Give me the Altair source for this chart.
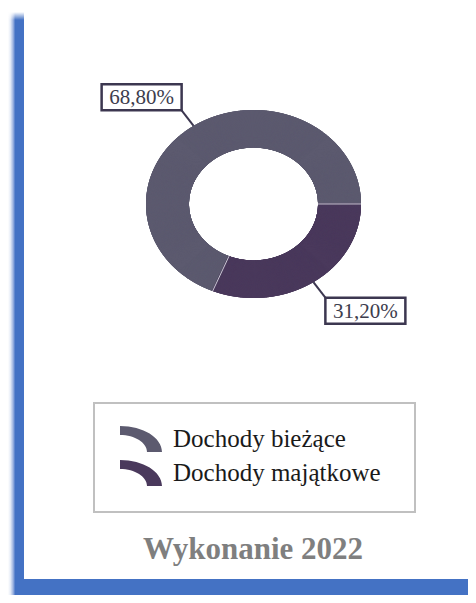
import altair as alt
import numpy as np
import pandas as pd

# ---------------- data ----------------
categories = ["Dochody bieżące", "Dochody majątkowe"]
values = [68.80, 31.20]
value_labels = ["68,80%", "31,20%"]
slice_colors = ["#5c5a6f", "#4a395c"]
title_text = "Wykonanie 2022"

# ---------------- layout / style ----------------
W, H = 460, 587
CX, CY = 245.5, 196.0      # donut centre (px)
RX, RY = 107.5, 94.0       # outer radii (px)
INNER = 0.6
START_DEG = 112.3          # rotation of first slice (clockwise from 3 o'clock)
STEP_DEG = 0.25
LEADER = 1.2
BOX_W, BOX_H = 80, 26
BLUE = "#4472c4"
DARK = "#3c3750"

total = sum(values)
ring_rows, sep_rows, label_rows = [], [], []
a0 = START_DEG
for cat, v, lab in zip(categories, values, value_labels):
    span = v / total * 360.0
    n = int(np.ceil(span / STEP_DEG))
    for t in np.linspace(a0, a0 + span, n + 1):
        r = np.radians(t)
        c, s = np.cos(r), np.sin(r)
        ring_rows.append({"cat": cat, "x": INNER * c, "y": INNER * s, "x2": c, "y2": s})
    r0 = np.radians(a0)
    sep_rows.append({"x": INNER * np.cos(r0), "y": INNER * np.sin(r0),
                     "x2": np.cos(r0), "y2": np.sin(r0)})
    m = np.radians(a0 + span / 2)
    c, s = np.cos(m), np.sin(m)
    bx = LEADER * c + np.sign(c) * BOX_W / 2 / RX
    by = LEADER * s + np.sign(s) * BOX_H / 2 / RY
    label_rows.append({
        "cat": cat, "label": lab,
        "x": c, "y": s, "x2": LEADER * c, "y2": LEADER * s,
        "bx": bx, "by": by,
        "bx1": bx - BOX_W / 2 / RX, "bx2": bx + BOX_W / 2 / RX,
        "by1": by - BOX_H / 2 / RY, "by2": by + BOX_H / 2 / RY,
    })
    a0 += span

ring_df = pd.DataFrame(ring_rows)
sep_df = pd.DataFrame(sep_rows)
lab_df = pd.DataFrame(label_rows)
dec = pd.DataFrame({"d": [0]})

xs = alt.Scale(domain=[-CX / RX, (W - CX) / RX], range=[0, W], nice=False, zero=False)
ys = alt.Scale(domain=[-CY / RY, (H - CY) / RY], range=[0, H], nice=False, zero=False)
cscale = alt.Scale(domain=categories, range=slice_colors)

SYMBOL_PATH = ("M -1.615 -1 A 3.231 2 0 0 1 1.615 1 L 0.462 1 "
               "A 2.077 1.308 0 0 0 -1.615 -0.308 Z")

# ---------------- decorations ----------------
left_grad = alt.LinearGradient(
    gradient="linear", x1=0, x2=1, y1=0, y2=0,
    stops=[alt.GradientStop(color="#ffffff", offset=0),
           alt.GradientStop(color="#e6ecf7", offset=0.15),
           alt.GradientStop(color="#9db3e0", offset=0.32),
           alt.GradientStop(color=BLUE, offset=0.45),
           alt.GradientStop(color=BLUE, offset=1)])
top_fade = alt.LinearGradient(
    gradient="linear", x1=0, x2=0, y1=0, y2=1,
    stops=[alt.GradientStop(color="#ffffff", offset=0),
           alt.GradientStop(color="rgba(255,255,255,0)", offset=1)])

left_bar = alt.Chart(dec).mark_rect(color=left_grad).encode(
    x=alt.value(0), x2=alt.value(16), y=alt.value(4), y2=alt.value(H))
top_cover = alt.Chart(dec).mark_rect(color=top_fade).encode(
    x=alt.value(0), x2=alt.value(16), y=alt.value(4), y2=alt.value(12))
bottom_bar = alt.Chart(dec).mark_rect(color=BLUE).encode(
    x=alt.value(16), x2=alt.value(W), y=alt.value(571), y2=alt.value(H))
legend_box = alt.Chart(dec).mark_rect(fill="white", stroke="#c0c0c0", strokeWidth=2).encode(
    x=alt.value(86), x2=alt.value(407), y=alt.value(395), y2=alt.value(504))

# ---------------- donut ----------------
ring = alt.Chart(ring_df).mark_rule(strokeWidth=1.8).encode(
    x=alt.X("x:Q", scale=xs, axis=None),
    y=alt.Y("y:Q", scale=ys, axis=None),
    x2="x2:Q", y2="y2:Q",
    stroke=alt.Stroke("cat:N", scale=cscale, legend=None),
    fill=alt.Fill("cat:N", scale=cscale, legend=alt.Legend(
        title=None, orient="none", legendX=112, legendY=418,
        symbolType=SYMBOL_PATH, symbolSize=676, symbolStrokeWidth=0,
        symbolOffset=8, labelOffset=19,
        labelFont="Liberation Serif", labelFontSize=25, labelColor="#1a1a1a",
        labelLimit=400, rowPadding=8, padding=0)),
)

seps = alt.Chart(sep_df).mark_rule(stroke="#c9c9d3", strokeWidth=1).encode(
    x=alt.X("x:Q", scale=xs, axis=None), y=alt.Y("y:Q", scale=ys, axis=None),
    x2="x2:Q", y2="y2:Q")

leaders = alt.Chart(lab_df).mark_rule(stroke=DARK, strokeWidth=2).encode(
    x=alt.X("x:Q", scale=xs, axis=None), y=alt.Y("y:Q", scale=ys, axis=None),
    x2="x2:Q", y2="y2:Q")

boxes = alt.Chart(lab_df).mark_rect(fill="white", stroke=DARK, strokeWidth=2.5).encode(
    x=alt.X("bx1:Q", scale=xs, axis=None), x2="bx2:Q",
    y=alt.Y("by1:Q", scale=ys, axis=None), y2="by2:Q")

texts = alt.Chart(lab_df).mark_text(
    font="Liberation Serif", fontSize=21, color="#3d3d4d",
    align="center", baseline="middle", dy=1).encode(
    x=alt.X("bx:Q", scale=xs, axis=None), y=alt.Y("by:Q", scale=ys, axis=None),
    text="label:N")

title = alt.Chart(dec).mark_text(
    text=title_text, font="Liberation Serif", fontSize=31, fontWeight="bold",
    color="#7f7f7f", align="center", baseline="alphabetic").encode(
    x=alt.value(245), y=alt.value(551))

chart = alt.layer(
    left_bar, top_cover, bottom_bar, legend_box,
    ring, seps, leaders, boxes, texts, title
).properties(
    width=W, height=H, padding=0, autosize="none"
).configure_view(strokeWidth=0)

chart.save("out.html", embed_options={"renderer": "svg", "actions": False})
